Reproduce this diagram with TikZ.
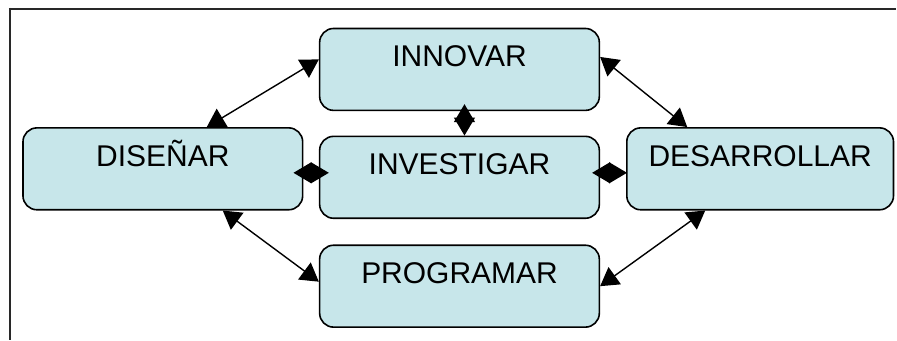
\documentclass[tikz,border=0pt]{standalone}
\usepackage{fontspec}
\setmainfont{Liberation Sans}
\usetikzlibrary{arrows.meta}
\definecolor{boxfill}{RGB}{199,230,234}
\definecolor{framegray}{RGB}{40,40,40}
\tikzset{
	phase/.style={draw=black, line width=1.6pt, fill=boxfill, rounded corners=14pt,
		minimum height=82pt, inner sep=0pt, text height=22pt, text depth=27pt,
		font=\fontsize{30}{36}\selectfont},
	link/.style={{Triangle[length=18pt,width=21pt]}-{Triangle[length=18pt,width=21pt]}, line width=1.4pt},
}
\begin{document}
\begin{tikzpicture}[x=1pt,y=-1pt]
			%					\draw[help lines, color=black!50, step=50pt,very thin](0,0)grid(897,340);
			\fill [white](0,0) rectangle (897,340);
			\draw [line width=2pt, color=framegray](9,9)--(897,9);
			\draw [line width=2pt, color=framegray](10,8)--(10,340);
			
			\node (inn) at (460,69.5)[phase, minimum width=280pt]{INNOVAR};
			\node (dis) at (163,169)[phase, minimum width=280pt]{DISEÑAR};
			\node (inv) at (460,177.5)[phase, minimum width=280pt]{INVESTIGAR};
			\node (pro) at (460,286.5)[phase, minimum width=280pt]{PROGRAMAR};
			\node (des) at (761,169)[phase, minimum width=267pt]{DESARROLLAR};
			
			\draw [link]([xshift=44pt]dis.north)--([yshift=10pt]inn.west);
			\draw [link]([yshift=12.5pt]inn.east)--([xshift=-73pt]des.north);
			\draw [link]([xshift=60pt]dis.south)--([yshift=4.5pt]pro.west);
			\draw [link](pro.east)--([xshift=-55pt]des.south);
			
			\draw [link, shorten <=-7pt]([xshift=5pt]inn.south)--([xshift=5pt]inv.north);
			\draw [link, shorten <=-10pt, shorten >=-10pt]([yshift=-4pt]dis.east)--([yshift=4.5pt]inv.west);
			\draw [link, shorten <=-8pt, shorten >=-1pt]([yshift=4.5pt]inv.east)--([yshift=-4pt]des.west);
			
		\end{tikzpicture}
\end{document}
